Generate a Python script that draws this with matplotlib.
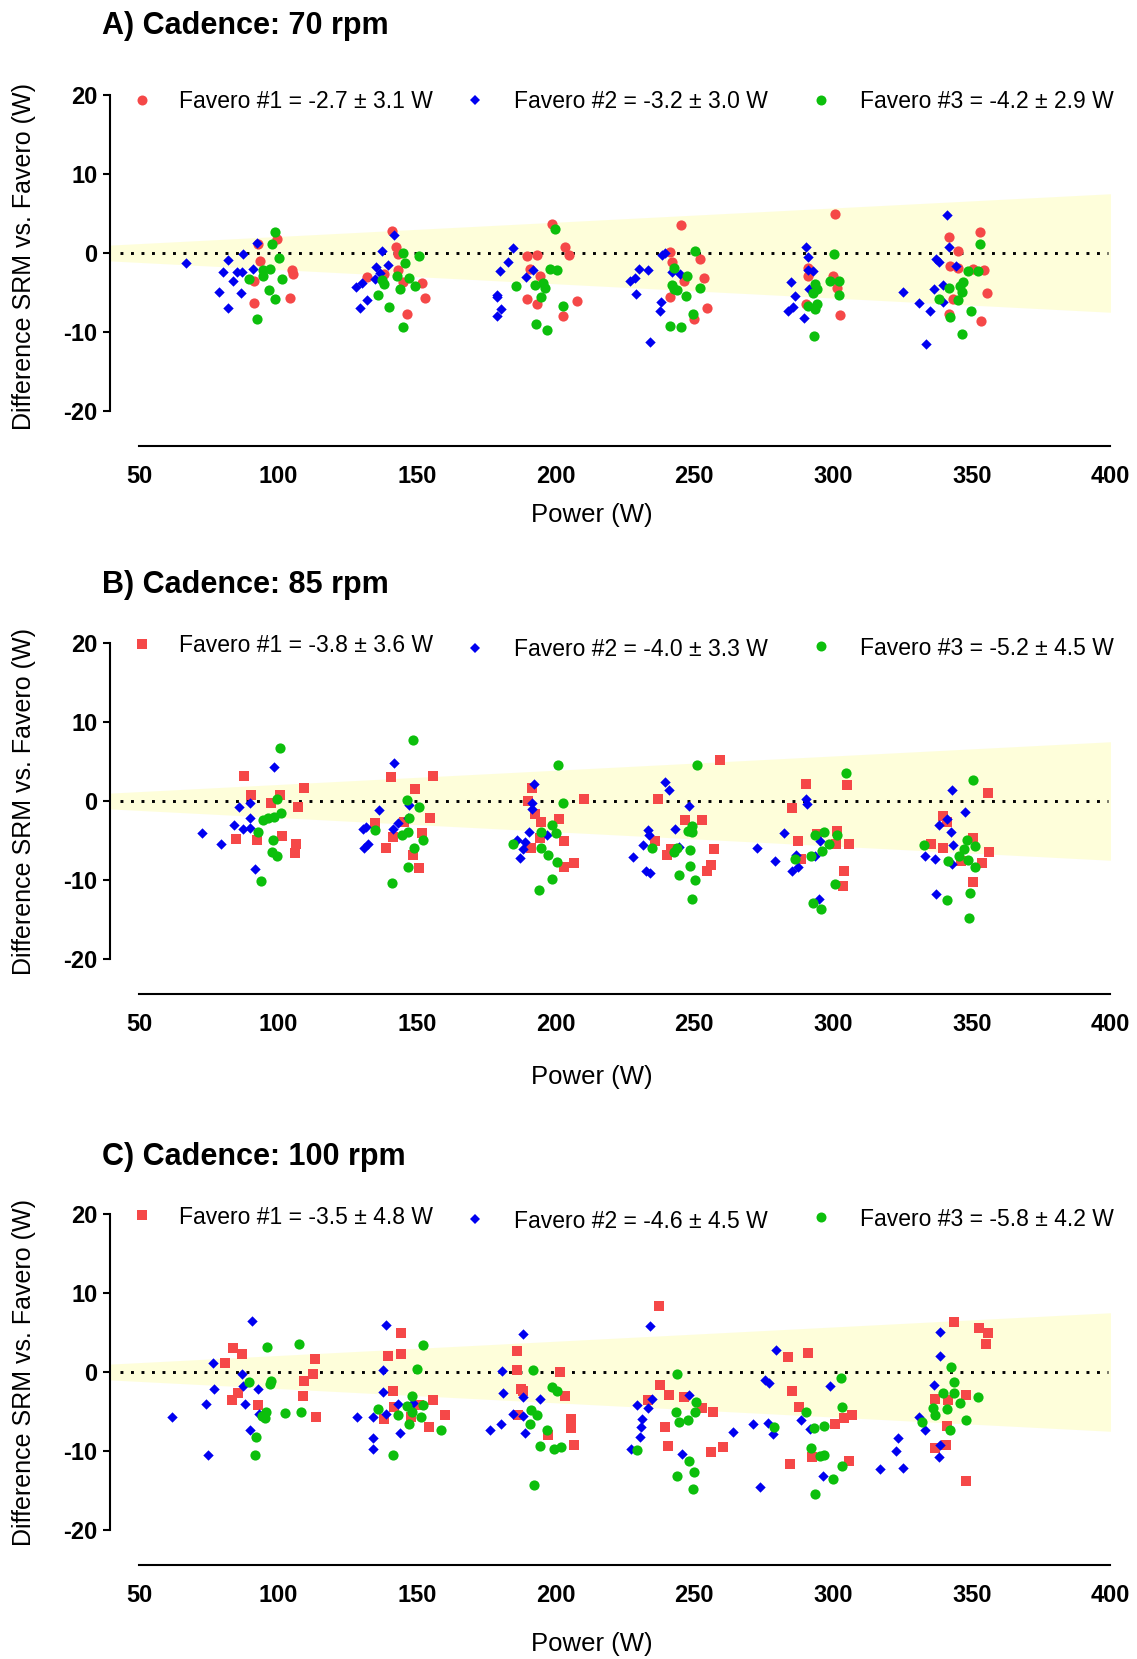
import numpy as np
import matplotlib
matplotlib.use("Agg")
import matplotlib.pyplot as plt

plt.rcParams['font.family'] = ['Liberation Sans', 'DejaVu Sans']
plt.rcParams['axes.unicode_minus'] = False

# ---- data: (power W, difference W) ----
# A) 70 rpm
a_fav1 = [(92.8, 1.2), (99.4, 1.8), (93.4, -1.0), (91.4, -3.6), (104.9, -2.2), (105.2, -2.7), (104.3, -5.7), (91.4, -6.3),
          (141.1, 2.8), (142.5, 0.8), (143.1, -0.1), (138.2, -2.7), (132.1, -3.0), (143.1, -2.1), (145.1, -3.7), (151.7, -3.8), (152.9, -5.7), (146.6, -7.7),
          (198.6, 3.7), (203.4, 0.8), (205.0, -0.3), (189.6, -0.4), (193.4, -0.3), (190.8, -2.0), (194.4, -2.9), (189.6, -5.8), (193.2, -6.5), (207.8, -6.1), (202.5, -8.0),
          (245.3, 3.5), (241.2, 0.1), (241.8, -1.1), (252.0, -0.8), (253.6, -3.2), (246.4, -3.6), (241.2, -5.6), (254.5, -7.0), (249.9, -8.4),
          (300.8, 4.9), (291.1, -1.9), (291.1, -2.9), (300.0, -2.9), (301.6, -4.4), (290.1, -6.5), (302.5, -7.8),
          (341.9, 2.0), (353.1, 2.7), (345.0, 0.3), (342.3, -1.7), (345.0, -1.9), (354.4, -2.2), (350.6, -2.0), (355.6, -5.0), (343.2, -5.8), (341.9, -7.7), (353.4, -8.6)]
a_fav2 = [(66.8, -1.3), (82.0, -0.9), (87.4, -0.1), (92.2, 1.3), (80.0, -2.4), (85.3, -2.4), (86.8, -2.4), (91.0, -2.0), (83.8, -3.6), (78.7, -4.9), (86.6, -5.1), (82.0, -7.0),
          (137.3, 0.3), (141.8, 2.3), (135.3, -1.8), (139.4, -1.5), (134.9, -3.3), (128.1, -4.3), (130.3, -3.8), (132.1, -5.9), (129.5, -6.9), (136.7, -2.5),
          (184.8, 0.6), (183.0, -1.2), (180.0, -2.3), (192.0, -2.2), (189.4, -3.0), (178.8, -5.3), (179.0, -5.6), (180.3, -7.1), (179.0, -8.0),
          (238.3, -0.2), (239.3, 0.0), (229.9, -2.0), (233.4, -2.2), (228.7, -3.2), (226.9, -3.5), (242.1, -2.4), (244.8, -2.7), (228.8, -5.2), (238.1, -6.2), (237.7, -7.3), (234.2, -11.3),
          (290.2, 0.7), (290.8, -0.5), (291.1, -2.1), (292.9, -2.3), (284.9, -3.7), (286.4, -5.4), (291.4, -4.6), (285.5, -6.8), (283.6, -7.3), (289.6, -8.2),
          (341.1, 4.8), (341.9, 0.8), (337.0, -0.8), (338.2, -1.1), (344.4, -1.6), (339.5, -4.1), (336.4, -4.6), (339.5, -6.2), (325.4, -4.9), (331.0, -6.3), (334.9, -7.3), (333.6, -11.5)]
a_fav3 = [(99.0, 2.6), (97.6, 1.1), (100.4, -0.6), (94.7, -2.1), (97.1, -2.0), (94.4, -2.9), (89.6, -3.3), (101.4, -3.3), (96.8, -4.7), (98.9, -5.8), (92.4, -8.3),
          (145.1, 0.0), (150.9, -0.4), (145.7, -1.3), (142.7, -2.9), (147.3, -3.2), (137.3, -3.4), (138.2, -3.9), (149.3, -4.2), (143.9, -4.6), (136.1, -5.3), (139.9, -6.8), (144.9, -9.4),
          (199.8, 3.1), (198.0, -2.0), (200.4, -2.1), (185.7, -4.2), (192.6, -4.1), (195.3, -3.8), (196.2, -4.4), (194.7, -5.6), (202.5, -6.7), (192.8, -9.0), (196.8, -9.7),
          (250.4, 0.3), (242.7, -1.9), (247.3, -2.9), (241.8, -4.1), (252.2, -4.4), (242.7, -4.6), (243.9, -4.7), (247.0, -5.4), (249.5, -7.7), (241.4, -9.3), (245.3, -9.4),
          (300.4, -0.1), (298.8, -3.5), (302.2, -3.5), (293.6, -3.9), (294.2, -4.6), (302.2, -5.3), (294.2, -6.4), (290.8, -6.7), (293.6, -7.1), (293.3, -10.5), (292.9, -5.1),
          (353.1, 1.2), (348.8, -2.3), (352.2, -2.3), (346.9, -3.7), (341.7, -4.4), (345.9, -4.2), (346.5, -4.9), (338.2, -5.8), (345.0, -5.9), (349.6, -7.3), (342.3, -8.1), (346.5, -10.3)]

# B) 85 rpm
b_fav1 = [(87.7, 3.2), (90.2, 0.8), (97.3, -0.2), (100.6, 0.8), (107.3, -0.7), (109.3, 1.7), (84.7, -4.8), (92.5, -4.9), (101.3, -4.4), (106.3, -5.4), (106.1, -6.6),
          (140.7, 3.0), (155.7, 3.2), (149.3, 1.5), (154.7, -2.2), (134.9, -2.8), (145.3, -2.7), (141.3, -4.5), (151.7, -4.1), (138.8, -5.9), (148.7, -6.8), (150.9, -8.5),
          (191.4, 1.6), (190.2, 0.0), (192.6, -1.6), (194.8, -2.6), (201.3, -2.3), (210.3, 0.2), (194.2, -4.7), (191.2, -5.9), (203.0, -5.0), (203.0, -8.3), (206.6, -7.9),
          (236.8, 0.3), (259.4, 5.2), (246.6, -2.4), (252.6, -2.4), (235.9, -5.1), (241.7, -6.1), (240.2, -6.8), (257.0, -6.1), (256.0, -8.1), (254.5, -8.8),
          (290.2, 2.2), (305.1, 2.0), (285.2, -0.9), (287.3, -5.1), (294.2, -4.2), (301.6, -3.8), (301.2, -5.5), (305.7, -5.5), (288.6, -7.3), (303.9, -8.9), (303.7, -10.8),
          (356.0, 1.0), (339.7, -1.9), (341.0, -2.6), (335.4, -5.5), (339.8, -5.9), (350.3, -4.7), (356.2, -6.4), (346.3, -7.6), (353.7, -7.9), (350.6, -10.3)]
b_fav2 = [(72.4, -4.1), (79.3, -5.5), (86.0, -0.7), (89.8, -0.3), (89.8, -2.2), (84.1, -3.1), (87.2, -3.5), (89.8, -3.4), (98.5, 4.3), (91.6, -8.6),
          (141.9, 4.8), (136.2, -1.2), (147.3, -0.5), (130.7, -3.5), (131.6, -3.3), (141.3, -3.6), (143.1, -2.8), (130.9, -6.0), (132.2, -5.5), (146.9, -2.1),
          (192.2, 2.2), (191.6, -0.3), (191.6, -1.0), (190.5, -3.9), (186.0, -4.9), (189.0, -5.2), (188.1, -6.1), (187.2, -7.2), (196.8, -4.3),
          (239.3, 2.4), (240.8, 1.4), (248.0, -0.6), (233.4, -3.7), (233.7, -4.3), (243.1, -3.5), (231.5, -5.6), (244.5, -5.8), (228.0, -7.1), (232.5, -8.9), (234.2, -9.1),
          (290.2, 0.3), (290.5, -0.4), (282.4, -4.0), (295.4, -5.1), (272.5, -5.9), (286.7, -6.8), (279.0, -7.6), (293.6, -7.0), (287.3, -8.4), (285.2, -8.9), (294.8, -12.4),
          (342.8, 1.4), (347.5, -1.4), (341.1, -2.3), (338.2, -3.0), (342.6, -3.9), (343.4, -5.6), (333.3, -7.0), (336.7, -7.4), (342.8, -8.0), (337.0, -11.8)]
b_fav3 = [(100.6, 6.7), (99.5, 0.3), (100.9, -1.5), (98.5, -2.0), (96.4, -2.1), (94.4, -2.4), (92.8, -3.9), (98.0, -4.9), (97.6, -6.4), (99.7, -7.0), (93.8, -10.1),
          (148.7, 7.7), (146.3, 0.1), (150.9, -0.7), (147.1, -2.1), (134.9, -3.7), (146.8, -3.9), (144.5, -4.3), (152.3, -4.9), (149.0, -6.0), (146.9, -8.4), (141.2, -10.4),
          (201.0, 4.6), (202.6, -0.2), (198.8, -3.1), (200.0, -4.0), (194.6, -3.9), (184.8, -5.4), (194.9, -6.0), (197.2, -6.8), (200.4, -7.7), (198.8, -9.9), (194.0, -11.3),
          (251.0, 4.5), (249.3, -3.2), (247.6, -3.8), (249.3, -3.9), (234.6, -5.9), (243.9, -5.9), (242.7, -6.5), (248.3, -6.2), (248.3, -8.2), (244.5, -9.4), (250.1, -10.0), (249.1, -12.4),
          (304.5, 3.6), (296.7, -3.9), (293.6, -4.3), (301.4, -4.3), (298.5, -5.4), (296.0, -6.3), (292.1, -7.0), (286.4, -7.3), (300.8, -10.5), (292.7, -12.9), (295.7, -13.7),
          (350.3, 2.6), (332.9, -5.6), (348.2, -4.9), (351.3, -5.7), (347.2, -6.1), (345.3, -6.9), (341.6, -7.6), (348.8, -7.5), (351.0, -8.4), (349.4, -11.7), (341.1, -12.5), (349.0, -14.8)]

# C) 100 rpm
c_fav1 = [(81.0, 1.1), (83.6, 3.0), (87.1, 2.3), (85.6, -2.6), (83.5, -3.5), (92.6, -4.2), (113.3, 1.6), (112.4, -0.3), (109.3, -1.2), (109.1, -3.1), (113.6, -5.7),
          (144.3, 4.9), (139.5, 2.0), (144.2, 2.3), (141.5, -2.4), (141.9, -4.4), (150.8, -4.2), (155.9, -3.6), (138.3, -5.9), (147.8, -5.7), (154.5, -6.9), (160.1, -5.5),
          (186.0, 2.6), (186.0, 0.3), (187.5, -2.2), (188.1, -2.4), (201.6, 0.0), (203.4, -3.1), (186.6, -5.4), (205.6, -5.9), (205.6, -7.1), (197.4, -8.0), (206.5, -9.2),
          (237.1, 8.3), (237.7, -1.7), (240.8, -2.9), (233.4, -3.5), (246.4, -3.2), (252.6, -4.5), (256.7, -5.1), (239.6, -7.0), (240.4, -9.4), (256.1, -10.1), (260.3, -9.5),
          (283.9, 1.9), (291.1, 2.4), (285.2, -2.4), (287.7, -4.4), (300.8, -6.6), (303.9, -5.8), (307.0, -5.4), (292.3, -10.8), (284.5, -11.6), (305.7, -11.3),
          (343.6, 6.3), (352.5, 5.6), (355.8, 5.0), (355.0, 3.5), (336.6, -3.4), (341.3, -3.6), (347.8, -2.9), (341.0, -6.8), (340.7, -9.2), (336.6, -9.6), (347.8, -13.8)]
c_fav2 = [(61.8, -5.7), (74.6, -10.5), (74.0, -4.0), (77.0, -2.1), (76.6, 1.2), (86.8, -0.3), (87.4, -1.8), (88.0, -4.0), (92.6, -2.1), (93.1, -5.3), (89.8, -7.4), (90.4, 6.5),
          (138.7, 6.0), (137.9, 0.2), (137.9, -2.5), (143.1, -4.0), (148.7, -3.9), (138.7, -5.3), (128.5, -5.7), (134.3, -5.7), (143.9, -7.7), (134.1, -8.3), (134.1, -9.8),
          (188.4, 4.8), (180.6, 0.1), (181.2, -2.7), (188.4, -3.2), (194.4, -3.4), (184.5, -5.3), (188.4, -5.6), (180.2, -6.6), (176.4, -7.4), (189.0, -7.7),
          (234.2, 5.8), (234.6, -3.4), (229.3, -4.2), (233.4, -4.5), (231.3, -5.9), (230.9, -6.9), (230.5, -8.2), (227.2, -9.7), (248.0, -2.9), (245.5, -10.4), (264.1, -7.6), (271.0, -6.6), (273.7, -14.6),
          (279.3, 2.8), (275.3, -1.0), (276.8, -1.4), (298.9, -1.8), (276.6, -6.4), (278.4, -7.9), (288.3, -6.1), (291.7, -7.2), (296.3, -13.2), (316.8, -12.3), (322.7, -10.0), (323.3, -8.4), (325.2, -12.2),
          (338.6, 5.1), (338.6, 2.0), (336.4, -1.7), (331.0, -5.7), (333.0, -7.4), (338.6, -9.3), (338.2, -10.8)]
c_fav3 = [(96.1, 3.2), (107.5, 3.5), (89.5, -1.3), (97.3, -1.1), (97.0, -1.5), (95.5, -5.0), (94.3, -5.6), (95.3, -5.8), (102.5, -5.2), (108.2, -5.0), (92.0, -8.2), (91.8, -10.5),
          (152.3, 3.4), (149.9, 0.4), (148.1, -3.0), (136.1, -4.7), (146.6, -4.3), (148.1, -5.0), (152.1, -4.2), (143.3, -5.5), (151.4, -5.7), (147.2, -6.6), (158.7, -7.3), (141.5, -10.5),
          (191.8, 0.2), (198.6, -1.9), (200.4, -2.4), (191.2, -4.8), (193.3, -5.5), (190.8, -6.6), (197.0, -7.3), (194.2, -9.4), (199.4, -9.7), (202.0, -9.5), (192.3, -14.3),
          (243.9, -0.2), (250.7, -3.8), (243.5, -5.1), (250.1, -5.0), (244.5, -6.3), (247.9, -6.1), (229.3, -9.9), (248.0, -11.3), (249.9, -12.7), (243.7, -13.2), (249.5, -14.8),
          (302.9, -0.8), (290.2, -5.0), (303.1, -4.4), (278.7, -7.0), (293.3, -7.1), (296.7, -6.8), (292.1, -9.6), (295.4, -10.6), (296.9, -10.5), (303.1, -11.9), (300.1, -13.5), (293.6, -15.5),
          (342.6, 0.6), (343.6, -1.3), (339.8, -2.6), (343.6, -2.7), (345.7, -3.9), (352.1, -3.2), (336.0, -4.6), (341.0, -4.7), (336.6, -5.5), (332.0, -6.3), (347.8, -6.1), (342.2, -7.4)]

titles = ['A) Cadence: 70 rpm', 'B) Cadence: 85 rpm', 'C) Cadence: 100 rpm']
legend_a = ['Favero #1 = -2.7 \u00b1 3.1 W', 'Favero #2 = -3.2 \u00b1 3.0 W', 'Favero #3 = -4.2 \u00b1 2.9 W']
legend_b = ['Favero #1 = -3.8 \u00b1 3.6 W', 'Favero #2 = -4.0 \u00b1 3.3 W', 'Favero #3 = -5.2 \u00b1 4.5 W']
legend_c = ['Favero #1 = -3.5 \u00b1 4.8 W', 'Favero #2 = -4.6 \u00b1 4.5 W', 'Favero #3 = -5.8 \u00b1 4.2 W']

# shaded agreement band (half width grows with power)
band_power = [39.4, 400]
band_half = [1.0, 7.5]

xticks = [50, 100, 150, 200, 250, 300, 350, 400]
yticks = [-20, -10, 0, 10, 20]

RED, BLUE, GREEN = '#F54848', '#0000F0', '#0CBF0C'
BAND = '#FEFEDA'

W, H = 1137, 1659
fig = plt.figure(figsize=(W / 100, H / 100), dpi=100)


def fx(x):
    return x / W


def fy(y):
    return 1 - y / H


# pixel layout of each panel: (axes top, axes bottom, title y, legend ys, xlabel y, ylabel shift)
layout = [
    (95, 411, 26, (100, 100, 100), 515, 4),
    (643, 959, 585, (644, 648, 646), 1077, 0),
    (1214, 1530, 1157, (1215, 1219, 1217), 1644, 0),
]
panels = [
    (a_fav1, a_fav2, a_fav3, 'o', legend_a),
    (b_fav1, b_fav2, b_fav3, 's', legend_b),
    (c_fav1, c_fav2, c_fav3, 's', legend_c),
]

ax_left, ax_right = 110, 1116
leg_marker_x = [142, 475, 821]
leg_text_x = [179, 514, 860]

for (top, bot, ty, leg_y, xl_y, yl_shift), (f1, f2, f3, m1, labels), title in zip(layout, panels, titles):
    ax = fig.add_axes([fx(ax_left), fy(bot), (ax_right - ax_left) / W, (bot - top) / H])

    ax.fill_between(band_power, [-h for h in band_half], band_half, color=BAND, lw=0, zorder=0)
    ax.hlines(0, 43, 399, colors='black', linestyles=(0, (1, 2.6)), linewidth=2.1, zorder=2)

    p1 = np.array(f1).T
    p2 = np.array(f2).T
    p3 = np.array(f3).T
    s1 = 54 if m1 == 'o' else 50
    ax.scatter(p1[0], p1[1], s=s1, marker=m1, color=RED, linewidths=0, zorder=3)
    ax.scatter(p2[0], p2[1], s=28, marker='D', color=BLUE, linewidths=0, zorder=4)
    ax.scatter(p3[0], p3[1], s=54, marker='o', color=GREEN, linewidths=0, zorder=5)

    ax.set_xlim(39.37, 402.0)
    ax.set_ylim(-20, 20)
    ax.set_xticks(xticks)
    ax.set_yticks(yticks)

    for side in ['top', 'right']:
        ax.spines[side].set_visible(False)
    ax.spines['left'].set_linewidth(1.5)
    ax.spines['bottom'].set_linewidth(1.5)
    ax.spines['bottom'].set_position(('outward', 25))
    ax.spines['bottom'].set_bounds(50, 400)

    ax.tick_params(axis='y', direction='out', length=5, width=1.5, pad=4, labelsize=17)
    ax.tick_params(axis='x', length=0, pad=14, labelsize=17)
    for lab in ax.get_xticklabels() + ax.get_yticklabels():
        lab.set_fontweight('bold')

    ax.set_ylabel('Difference SRM vs. Favero (W)', fontsize=18)
    ax.yaxis.set_label_coords((24 - ax_left) / (ax_right - ax_left), 0.5 - yl_shift / (bot - top))
    ax.yaxis.label.set_va('center')

    ax.set_xlabel('Power (W)', fontsize=18.5)
    ax.xaxis.set_label_coords((592 - ax_left) / (ax_right - ax_left), (bot - xl_y) / (bot - top))
    ax.xaxis.label.set_va('center')

    fig.text(fx(102), fy(ty), title, fontsize=22, fontweight='bold', va='center', ha='left')

    markers = [(m1, RED, 7.2), ('D', BLUE, 5.2), ('o', GREEN, 7.2)]
    for (mk, col, ms), mx, tx, ly, lab in zip(markers, leg_marker_x, leg_text_x, leg_y, labels):
        fig.lines.append(plt.Line2D([fx(mx)], [fy(ly)], marker=mk, color=col, markersize=ms,
                                    markeredgewidth=0, linestyle='none', transform=fig.transFigure))
        fig.text(fx(tx), fy(ly + 2), lab, fontsize=16.5, va='center', ha='left')

fig.savefig('out.png', dpi=100)
